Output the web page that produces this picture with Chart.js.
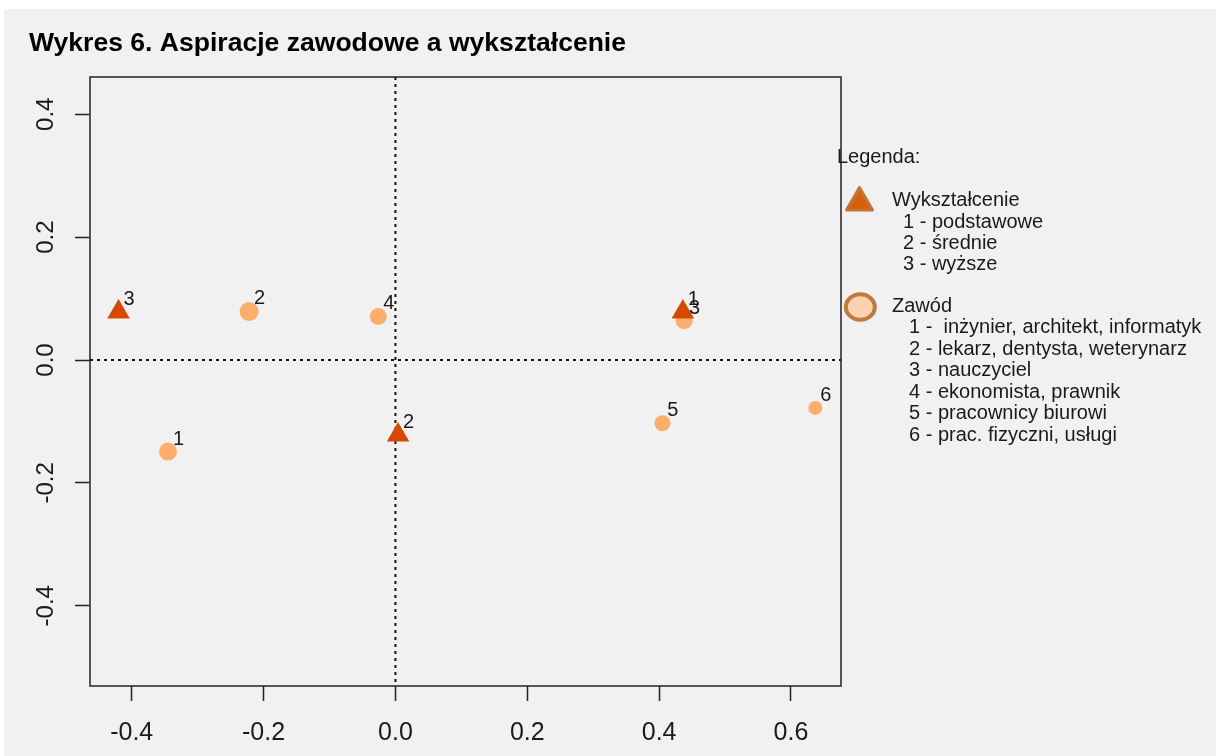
<!DOCTYPE html>
<html lang="pl">
<head>
<meta charset="utf-8">
<title>Wykres 6</title>
<script src="https://cdn.jsdelivr.net/npm/chart.js@4.4.1/dist/chart.umd.min.js"></script>
<style>
  html, body { margin: 0; padding: 0; background: #fff; }
  #wrap { width: 1216px; height: 756px; }
</style>
</head>
<body>
<div id="wrap"><canvas id="chart" width="1216" height="756"></canvas></div>
<script>
const TITLE = 'Wykres 6. Aspiracje zawodowe a wykształcenie';

// Wykształcenie (trójkąty)
const eduLabels = ['1', '2', '3'];
const eduX = [0.436, 0.004, -0.420];
const eduY = [0.078, -0.122, 0.078];

// Zawód (koła)
const jobLabels = ['1', '2', '3', '4', '5', '6'];
const jobX = [-0.345, -0.222, 0.438, -0.026, 0.405, 0.637];
const jobY = [-0.149, 0.079, 0.064, 0.071, -0.103, -0.078];

const xTicks = [-0.4, -0.2, 0.0, 0.2, 0.4, 0.6];
const yTicks = [-0.4, -0.2, 0.0, 0.2, 0.4];

const legendTitle = 'Legenda:';
const eduName = 'Wykształcenie';
const eduItems = ['1 - podstawowe', '2 - średnie', '3 - wyższe'];
const jobName = 'Zawód';
const jobItems = [
  '1 -  inżynier, architekt, informatyk',
  '2 - lekarz, dentysta, weterynarz',
  '3 - nauczyciel',
  '4 - ekonomista, prawnik',
  '5 - pracownicy biurowi',
  '6 - prac. fizyczni, usługi',
];

const FONT = "'Liberation Sans', Arial, sans-serif";
const INK  = '#1a1a1a';

const pts = (xs, ys) => xs.map((x, i) => ({ x, y: ys[i] }));

// tło: biały pasek u góry, szary panel + tytuł
const bgPlugin = {
  id: 'bg',
  beforeDraw(chart) {
    const { ctx, width, height } = chart;
    ctx.save();
    ctx.fillStyle = '#fff';
    ctx.fillRect(0, 0, width, height);
    ctx.fillStyle = '#f1f1f1';
    ctx.fillRect(4, 9, width - 4, height - 9);

    ctx.font = `bold 25px ${FONT}`;
    ctx.fillStyle = '#000';
    ctx.textBaseline = 'alphabetic';
    const w = ctx.measureText(TITLE).width;
    ctx.translate(29, 51);
    ctx.scale(597 / w, 1);
    ctx.fillText(TITLE, 0, 0);
    ctx.restore();
  },
};

// ramka i linie zerowe
const framePlugin = {
  id: 'frame',
  beforeDatasetsDraw(chart) {
    const { ctx, chartArea: a, scales: { x, y } } = chart;
    const x0 = x.getPixelForValue(0), y0 = y.getPixelForValue(0);
    ctx.save();
    ctx.strokeStyle = '#111';
    ctx.lineWidth = 2;
    ctx.setLineDash([3, 4]);
    ctx.beginPath();
    ctx.moveTo(x0, a.top); ctx.lineTo(x0, a.bottom);
    ctx.moveTo(a.left, y0); ctx.lineTo(a.right, y0);
    ctx.stroke();
    ctx.setLineDash([]);
    ctx.lineWidth = 1.5;
    ctx.strokeStyle = '#222';
    ctx.strokeRect(a.left, a.top, a.width, a.height);
    ctx.restore();
  },
};

// numery przy punktach
const pointLabels = {
  id: 'pointLabels',
  afterDatasetsDraw(chart) {
    const { ctx } = chart;
    ctx.save();
    ctx.font = `20px ${FONT}`;
    ctx.fillStyle = INK;
    ctx.textAlign = 'center';
    ctx.textBaseline = 'middle';
    chart.data.datasets.forEach((ds, di) => {
      chart.getDatasetMeta(di).data.forEach((el, i) => {
        ctx.fillText(ds.labels[i], el.x + 10.5, el.y - 12.5);
      });
    });
    ctx.restore();
  },
};

// legenda po prawej
const sideLegend = {
  id: 'sideLegend',
  afterDraw(chart) {
    const { ctx } = chart;
    ctx.save();
    ctx.font = `20px ${FONT}`;
    ctx.fillStyle = INK;
    ctx.textAlign = 'left';
    ctx.textBaseline = 'alphabetic';
    ctx.fillText(legendTitle, 837, 163);

    // trójkąt
    const tx = 859.5, ty = 202.5, tr = 15;
    ctx.beginPath();
    ctx.moveTo(tx, ty - tr);
    ctx.lineTo(tx + tr * 0.866, ty + tr / 2);
    ctx.lineTo(tx - tr * 0.866, ty + tr / 2);
    ctx.closePath();
    ctx.fillStyle = '#d4600e';
    ctx.fill();
    ctx.lineJoin = 'round';
    ctx.lineWidth = 3;
    ctx.strokeStyle = '#c47535';
    ctx.stroke();

    ctx.fillStyle = INK;
    ctx.fillText(eduName, 892, 205.5);
    eduItems.forEach((t, i) => ctx.fillText(t, 903, 227.5 + i * 21.3));

    // koło
    ctx.beginPath();
    ctx.ellipse(860.3, 307, 14.5, 12.8, 0, 0, Math.PI * 2);
    ctx.fillStyle = '#fcd3b2';
    ctx.fill();
    ctx.lineWidth = 4;
    ctx.strokeStyle = '#c27a3c';
    ctx.stroke();

    ctx.fillStyle = INK;
    ctx.fillText(jobName, 892, 312.3);
    jobItems.forEach((t, i) => ctx.fillText(t, 909, 333.3 + i * 21.5));
    ctx.restore();
  },
};

const tickGrid = { drawOnChartArea: false, drawTicks: true, tickLength: 15, tickWidth: 1.5, tickColor: '#222' };

new Chart(document.getElementById('chart'), {
  type: 'scatter',
  data: {
    datasets: [
      {
        label: eduName,
        labels: eduLabels,
        data: pts(eduX, eduY),
        pointStyle: 'triangle',
        pointRadius: 13,
        backgroundColor: '#d94801',
        borderWidth: 0,
      },
      {
        label: jobName,
        labels: jobLabels,
        data: pts(jobX, jobY),
        pointStyle: 'circle',
        pointRadius: [9, 9.5, 8.5, 8.5, 8, 7],
        backgroundColor: '#fdae6b',
        borderWidth: 0,
      },
    ],
  },
  options: {
    responsive: false,
    animation: false,
    events: [],
    layout: { padding: { left: 29, right: 375, top: 77, bottom: 0 } },
    plugins: {
      legend: { display: false },
      tooltip: { enabled: false },
      title: { display: false },
    },
    scales: {
      x: {
        type: 'linear',
        min: -0.4633,
        max: 0.6759,
        afterBuildTicks: s => { s.ticks = xTicks.map(v => ({ value: v })); },
        afterFit: s => { s.height = 70; },
        grid: tickGrid,
        border: { display: false },
        ticks: {
          color: INK,
          padding: 17,
          maxRotation: 0,
          font: { family: FONT, size: 25 },
          callback: v => v.toFixed(1),
        },
      },
      y: {
        type: 'linear',
        min: -0.5307,
        max: 0.4607,
        afterBuildTicks: s => { s.ticks = yTicks.map(v => ({ value: v })); },
        afterFit: s => { s.width = 61; },
        grid: tickGrid,
        border: { display: false },
        ticks: {
          color: INK,
          padding: 8,
          minRotation: 90,
          maxRotation: 90,
          crossAlign: 'center',
          font: { family: FONT, size: 24 },
          callback: v => v.toFixed(1),
        },
      },
    },
  },
  plugins: [bgPlugin, framePlugin, pointLabels, sideLegend],
});
</script>
</body>
</html>
